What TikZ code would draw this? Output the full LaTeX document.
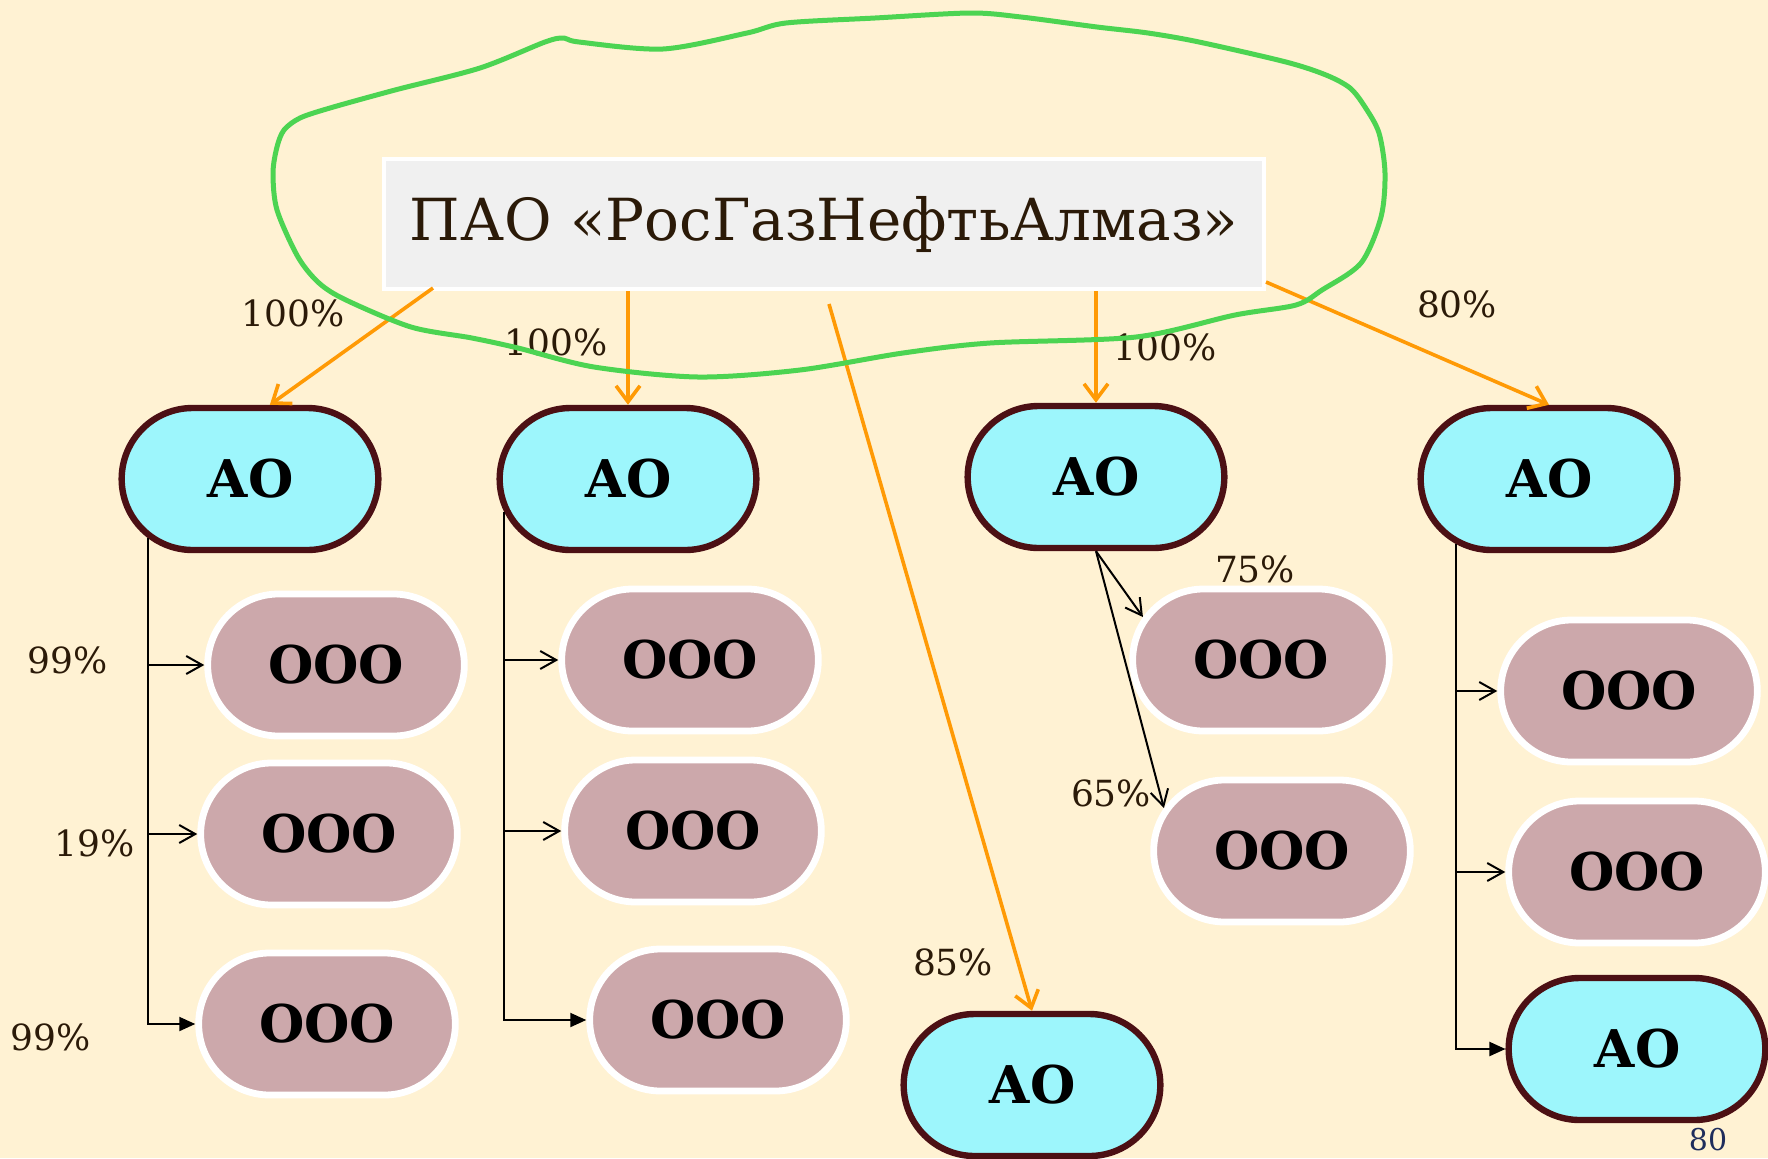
\documentclass[tikz,border=0pt]{standalone}
\usepackage{fontspec}
\setmainfont{DejaVu Serif}
\usepackage{tikz}
\usetikzlibrary{arrows.meta}
\usetikzlibrary{shapes.misc}
\usetikzlibrary{calc}

\definecolor{cream}{HTML}{FFF2D3}
\definecolor{aqua}{HTML}{9DF6FC}
\definecolor{maroon}{HTML}{4C1014}
\definecolor{mauve}{HTML}{CCA8AB}
\definecolor{paper}{HTML}{F0F0F0}
\definecolor{amber}{HTML}{FF9A05}
\definecolor{marker}{HTML}{4CD452}
\definecolor{ink}{HTML}{2B1A08}
\definecolor{navy}{HTML}{1F2D5C}

\begin{document}
\begin{tikzpicture}[x=0.5pt, y=-0.5pt,
    holding/.style={rectangle, fill=paper, draw=white, line width=2pt,
      minimum width=440pt, minimum height=65pt, text=ink,
      font=\fontsize{29}{33}\selectfont},
    ao/.style={rounded rectangle, fill=aqua, draw=maroon, line width=3.2pt,
      minimum width=135pt, minimum height=71pt,
      font=\fontsize{26}{30}\selectfont\bfseries},
    ooo/.style={rounded rectangle, fill=mauve, draw=white, line width=3.4pt,
      minimum width=135pt, minimum height=71pt,
      font=\fontsize{26}{30}\selectfont\bfseries},
    share/.style={text=ink, font=\fontsize{18}{20}\selectfont},
    owns/.style={draw=amber, line width=1.8pt,
      -{Straight Barb[length=8pt,width=12pt]}},
    sub/.style={line width=1pt, -{Straight Barb[length=8pt,width=9pt]}},
    subend/.style={line width=1pt, -{Triangle[length=8pt,width=7pt]}},
    scribble/.style={draw=marker, line width=2.5pt, line join=round}]
  \fill [cream] (0, 0) rectangle (1768, 1158);
  \useasboundingbox (0, 0) rectangle (1768, 1158);

  % Holding
  \node [holding] (pao) at (824, 224) {ПАО «РосГазНефтьАлмаз»};

  % Joint-stock companies
  \node [ao] (aoA) at (250, 479) {АО};
  \node [ao] (aoB) at (628, 479) {АО};
  \node [ao] (aoC) at (1096, 477) {АО};
  \node [ao] (aoD) at (1549, 479) {АО};
  \node [ao] (aoE) at (1032, 1085) {АО};
  \node [ao] (aoF) at (1637, 1049) {АО};

  % Limited companies
  \node [ooo] (oooA1) at (336, 665) {ООО};
  \node [ooo] (oooA2) at (329, 834) {ООО};
  \node [ooo] (oooA3) at (327, 1024) {ООО};
  \node [ooo] (oooB1) at (690, 660) {ООО};
  \node [ooo] (oooB2) at (693, 831) {ООО};
  \node [ooo] (oooB3) at (718, 1020) {ООО};
  \node [ooo] (oooC1) at (1261, 660) {ООО};
  \node [ooo] (oooC2) at (1282, 851) {ООО};
  \node [ooo] (oooD1) at (1629, 691) {ООО};
  \node [ooo] (oooD2) at (1637, 872) {ООО};

  % Holding shares
  \draw [owns] ($(pao.south west) + (51, -3)$) -- (aoA.75);
  \draw [owns] (aoB.north |- pao.south) -- (aoB.north);
  \draw [owns] ($(pao.south) + (5, 13)$) -- (aoE.north);
  \draw [owns] (aoC.north |- pao.south) -- (aoC.north);
  \draw [owns] ($(pao.south east) + (0, -9)$) -- (aoD.north);

  % Subsidiaries
  \draw [sub] (aoA.-150) |- (oooA1.west);
  \draw [sub] (aoA.-150) |- (oooA2.west);
  \draw [subend] (aoA.-150) |- (oooA3.west);
  \draw [sub] (aoB.-165) |- (oooB1.west);
  \draw [sub] (aoB.-165) |- (oooB2.west);
  \draw [subend] (aoB.-165) |- (oooB3.west);
  \draw [sub] (aoC.south) -- (oooC1.160);
  \draw [sub] (aoC.south) -- (oooC2.160);
  \draw [sub] (aoD.-145) |- (oooD1.west);
  \draw [sub] (aoD.-145) |- (oooD2.west);
  \draw [subend] (aoD.-145) |- (aoF.west);

  % Percentages
  \node [share] (pA) at (293, 313) {100\%};
  \node [share] (pB) at (556, 342) {100\%};
  \node [share] (pC) at (1165, 347) {100\%};
  \node [share] (pD) at (1457, 304) {80\%};
  \node [share] (pE) at (953, 962) {85\%};
  \node [share] (pC1) at (1255, 569) {75\%};
  \node [share] (pC2) at (1111, 793) {65\%};
  \node [share] (pA1) at (68, 660) {99\%};
  \node [share] (pA2) at (95, 843) {19\%};
  \node [share] (pA3) at (51, 1037) {99\%};

  \node [text=navy, inner sep=1pt, font=\fontsize{15}{17}\selectfont] (pagenum) at (1708, 1140) {80};

  % Marker loop
  \draw [scribble] plot [smooth cycle, tension=0.5] coordinates {
    (564, 38) (579, 42) (663, 49) (747, 33) (786, 23) (875, 18)
    (970, 13) (1021, 17) (1097, 27) (1148, 33) (1199, 42) (1286, 62)
    (1326, 75) (1350, 88) (1365, 107) (1379, 133) (1385, 173)
    (1381, 217) (1361, 263) (1322, 290) (1296, 305) (1235, 315)
    (1136, 337) (990, 343) (903, 353) (800, 370) (698, 377)
    (594, 367) (518, 348) (472, 338) (411, 327) (346, 300)
    (319, 283) (298, 257) (277, 210) (273, 173) (277, 147)
    (284, 130) (300, 118) (330, 108) (395, 90) (480, 68) (545, 42)};
\end{tikzpicture}
\end{document}
